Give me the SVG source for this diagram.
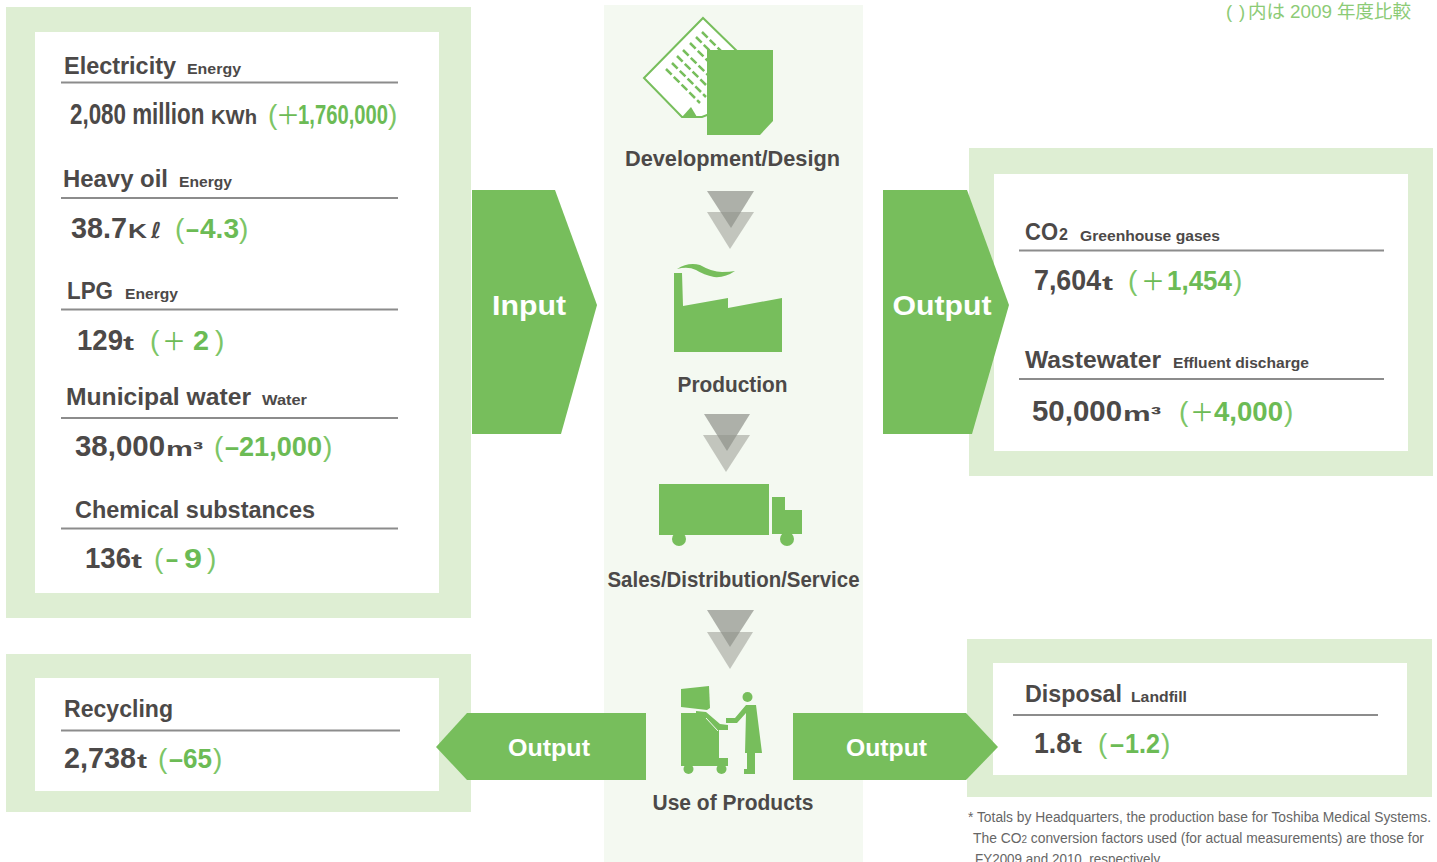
<svg xmlns="http://www.w3.org/2000/svg" width="1437" height="862" viewBox="0 0 1437 862">
<style>
text{font-family:"Liberation Sans",Arial,"Noto Sans CJK JP",sans-serif;font-weight:700;fill:#4c4948}
.h{font-size:24px}.s{font-size:15px}.v{font-size:29px}.d{font-size:27px;fill:#6cbb55}.u{font-size:21px}
.l{font-weight:400;font-size:28px;fill:#7cc566}
.p{font-weight:400;font-size:24px;fill:#6cbb55}
.lab{font-size:22px;text-anchor:middle}
.arr{fill:#fff;font-size:28px;text-anchor:middle}
.f{font-weight:400;font-size:14px;fill:#666}
.outer{fill:#deeed3}.inner{fill:#fff}.ic{fill:#77be5c}
.r{stroke:#8c8c8c;stroke-width:2;fill:none}
.t1{fill:#8f918a;opacity:.7}.t2{fill:#8f918a;opacity:.5}
</style>
<rect x="604" y="5" width="259" height="857" fill="#f4f9f1"/>
<g id="input-panel">
<rect class="outer" x="6" y="7" width="465" height="611"/><rect class="inner" x="35" y="32" width="404" height="561"/>
<path class="r" d="M61 82.500H398M61 198H398M61 309.500H398M61 418H398M61 528.500H398"/>
<text class="h" x="64" y="74" textLength="112" lengthAdjust="spacingAndGlyphs">Electricity</text><text class="s" x="187" y="73.500" textLength="54" lengthAdjust="spacingAndGlyphs">Energy</text>
<text class="v" transform="translate(70 123.500) scale(.772 1)">2,080 million</text>
<text class="u" x="211" y="123.500" textLength="46" lengthAdjust="spacingAndGlyphs">KWh</text>
<text class="l" x="268" y="124">(</text><text class="p" x="276" y="124">＋</text>
<text class="d" transform="translate(298 124) scale(.75 1)">1,760,000</text>
<text class="l" x="388" y="124">)</text>
<text class="h" x="63" y="187" textLength="105" lengthAdjust="spacingAndGlyphs">Heavy oil</text><text class="s" x="179" y="187" textLength="53" lengthAdjust="spacingAndGlyphs">Energy</text>
<text class="v" y="238"><tspan x="71" textLength="56" lengthAdjust="spacingAndGlyphs">38.7</tspan><tspan class="u" x="128" textLength="19" lengthAdjust="spacingAndGlyphs">K</tspan></text>
<text x="151" y="238" style="font-family:'DejaVu Sans',sans-serif;font-size:22px;font-style:italic">ℓ</text>
<text class="d" y="238"><tspan class="l" x="175">(</tspan><tspan x="186" textLength="13" lengthAdjust="spacingAndGlyphs">–</tspan><tspan x="200" textLength="39" lengthAdjust="spacingAndGlyphs">4.3</tspan><tspan class="l" x="239">)</tspan></text>
<text class="h" x="67" y="299" textLength="46" lengthAdjust="spacingAndGlyphs">LPG</text><text class="s" x="125" y="299" textLength="53" lengthAdjust="spacingAndGlyphs">Energy</text>
<text class="v" y="350"><tspan x="77" textLength="46" lengthAdjust="spacingAndGlyphs">129</tspan><tspan class="u" x="123" textLength="11" lengthAdjust="spacingAndGlyphs">t</tspan></text>
<text class="d" y="350"><tspan class="l" x="150">(</tspan><tspan class="p" x="162">＋</tspan><tspan x="193" textLength="16" lengthAdjust="spacingAndGlyphs">2</tspan><tspan class="l" x="215">)</tspan></text>
<text class="h" x="66" y="405" textLength="185" lengthAdjust="spacingAndGlyphs">Municipal water</text><text class="s" x="262" y="405" textLength="45" lengthAdjust="spacingAndGlyphs">Water</text>
<text class="v" y="456"><tspan x="75" textLength="90" lengthAdjust="spacingAndGlyphs">38,000</tspan><tspan class="u" x="166" textLength="37" lengthAdjust="spacingAndGlyphs">m³</tspan></text>
<text class="d" y="456"><tspan class="l" x="214">(</tspan><tspan x="225" textLength="14" lengthAdjust="spacingAndGlyphs">–</tspan><tspan x="239" textLength="83" lengthAdjust="spacingAndGlyphs">21,000</tspan><tspan class="l" x="323">)</tspan></text>
<text class="h" x="75" y="518" textLength="240" lengthAdjust="spacingAndGlyphs">Chemical substances</text>
<text class="v" y="568"><tspan x="85" textLength="46" lengthAdjust="spacingAndGlyphs">136</tspan><tspan class="u" x="131" textLength="11" lengthAdjust="spacingAndGlyphs">t</tspan></text>
<text class="d" y="568"><tspan class="l" x="154">(</tspan><tspan x="166" textLength="12" lengthAdjust="spacingAndGlyphs">–</tspan><tspan x="184" textLength="18" lengthAdjust="spacingAndGlyphs">9</tspan><tspan class="l" x="207">)</tspan></text>
</g>
<g id="recycling-panel">
<rect class="outer" x="6" y="654" width="465" height="158"/><rect class="inner" x="35" y="678" width="404" height="113"/>
<path class="r" d="M61 730.500H400"/>
<text class="h" x="64" y="717" textLength="109" lengthAdjust="spacingAndGlyphs">Recycling</text>
<text class="v" y="768"><tspan x="64" textLength="72" lengthAdjust="spacingAndGlyphs">2,738</tspan><tspan class="u" x="137" textLength="10" lengthAdjust="spacingAndGlyphs">t</tspan></text>
<text class="d" y="768"><tspan class="l" x="158">(</tspan><tspan x="169" textLength="14" lengthAdjust="spacingAndGlyphs">–</tspan><tspan x="183" textLength="29" lengthAdjust="spacingAndGlyphs">65</tspan><tspan class="l" x="213">)</tspan></text>
</g>
<g id="output-air-panel">
<rect class="outer" x="969" y="148" width="464" height="328"/><rect class="inner" x="994" y="174" width="414" height="277"/>
<path class="r" d="M1019 250.500H1384M1019 379H1384"/>
<text class="h" y="240"><tspan x="1025" textLength="33" lengthAdjust="spacingAndGlyphs">CO</tspan><tspan class="s" x="1059" style="font-size:16px">2</tspan></text><text class="s" x="1080" y="240.500" textLength="140" lengthAdjust="spacingAndGlyphs">Greenhouse gases</text>
<text class="v" transform="translate(1034 290) scale(.924 1)">7,604</text><text class="u" x="1102" y="290" textLength="11" lengthAdjust="spacingAndGlyphs">t</text>
<text class="d" y="290"><tspan class="l" x="1128">(</tspan><tspan class="p" x="1141">＋</tspan><tspan x="1167" textLength="65" lengthAdjust="spacingAndGlyphs">1,454</tspan><tspan class="l" x="1233">)</tspan></text>
<text class="h" x="1025" y="368" textLength="136" lengthAdjust="spacingAndGlyphs">Wastewater</text><text class="s" x="1173" y="367.500" textLength="136" lengthAdjust="spacingAndGlyphs">Effluent discharge</text>
<text class="v" y="421"><tspan x="1032" textLength="90" lengthAdjust="spacingAndGlyphs">50,000</tspan><tspan class="u" x="1123" textLength="38" lengthAdjust="spacingAndGlyphs">m³</tspan></text>
<text class="d" y="421"><tspan class="l" x="1179">(</tspan><tspan class="p" x="1190">＋</tspan><tspan x="1214" textLength="69" lengthAdjust="spacingAndGlyphs">4,000</tspan><tspan class="l" x="1284">)</tspan></text>
</g>
<g id="disposal-panel">
<rect class="outer" x="967" y="639" width="465" height="158"/><rect class="inner" x="993" y="663" width="414" height="112"/>
<path class="r" d="M1013 715H1378"/>
<text class="h" x="1025" y="702" textLength="97" lengthAdjust="spacingAndGlyphs">Disposal</text><text class="s" x="1131" y="702" textLength="56" lengthAdjust="spacingAndGlyphs">Landfill</text>
<text class="v" y="753"><tspan x="1034" textLength="37" lengthAdjust="spacingAndGlyphs">1.8</tspan><tspan class="u" x="1071" textLength="11" lengthAdjust="spacingAndGlyphs">t</tspan></text>
<text class="d" y="753"><tspan class="l" x="1098">(</tspan><tspan x="1110" textLength="14" lengthAdjust="spacingAndGlyphs">–</tspan><tspan x="1125" textLength="35" lengthAdjust="spacingAndGlyphs">1.2</tspan><tspan class="l" x="1161">)</tspan></text>
</g>
<g id="connectors">
<polygon class="ic" points="472,190 555,190 597,305 561,434 472,434"/>
<polygon class="ic" points="883,190 967,190 1009,305 972,434 883,434"/>
<polygon class="ic" points="646,713 467,713 436,747 467,780 646,780"/>
<polygon class="ic" points="793,713 966,713 998,747 966,780 793,780"/>
<polygon class="t1" points="707,191 754,191 731,228"/><polygon class="t2" points="707,212 754,212 730,249"/>
<polygon class="t1" points="704,414 750,414 727,451"/><polygon class="t2" points="703,435 750,435 726,472"/>
<polygon class="t1" points="707,610 754,610 730,647"/><polygon class="t2" points="707,632 753,632 730,669"/>
</g>
<text class="arr" x="529" y="315" textLength="74" lengthAdjust="spacingAndGlyphs">Input</text>
<text class="arr" x="942" y="315" textLength="99" lengthAdjust="spacingAndGlyphs">Output</text>
<text class="lab" x="549" y="756" textLength="82" lengthAdjust="spacingAndGlyphs" style="font-size:24px;fill:#fff">Output</text>
<text class="lab" x="886.500" y="756" textLength="81" lengthAdjust="spacingAndGlyphs" style="font-size:24px;fill:#fff">Output</text>
<g id="development">
<polygon points="644,78 703,18 740,54 720,110 702,117 682,117" fill="#fff" stroke="#77be5c" stroke-width="2"/>
<polygon class="ic" points="682,117 691,107 697,117"/>
<g stroke="#77be5c" stroke-width="2.500" stroke-dasharray="8 3" fill="none"><path d="M666 69L700 103M672 63L706 97M677 56L712 91M683 50L718 85M690 43L724 77M696 37L730 71M702 32L732 62"/></g>
<polygon class="ic" points="707,50 773,50 773,121 760,135 707,135"/>
<text class="lab" x="732.500" y="166" textLength="215" lengthAdjust="spacingAndGlyphs">Development/Design</text>
</g>
<g id="production">
<path class="ic" d="M677 269Q688 262 700 265Q712 272 722 272Q730 272 735 271Q725 278 714 277Q704 275 696 270Q688 266 677 269Z"/>
<polygon class="ic" points="674,352 674,273 682,273 683,306 728,298 728,308 782,298 782,352"/>
<text class="lab" x="732.500" y="392" textLength="110" lengthAdjust="spacingAndGlyphs">Production</text>
</g>
<g id="sales">
<rect class="ic" x="659" y="484" width="110" height="51"/>
<polygon class="ic" points="772,497 785,497 785,510 802,510 802,534 772,534"/>
<circle class="ic" cx="679" cy="539" r="7"/><circle class="ic" cx="787" cy="539" r="7"/>
<text class="lab" x="733.500" y="587" textLength="252" lengthAdjust="spacingAndGlyphs">Sales/Distribution/Service</text>
</g>
<g id="use">
<polygon class="ic" points="681,689 709,686 710,708 707,710 681,707"/>
<polygon class="ic" points="681,713 696,713 696,711 706,712 720,724 728,725 728,730 719,730 719,758 728,758 728,766 681,766"/>
<path d="M706 718L718 731" stroke="#f4f9f1" stroke-width="1" fill="none"/>
<circle class="ic" cx="688.500" cy="769" r="5"/><circle class="ic" cx="721.500" cy="769" r="5"/>
<circle class="ic" cx="747.500" cy="697" r="5"/>
<polygon class="ic" points="746,705 756,705 762,753 755,753 755,774 744,774 744,769 747,769 747,753 745,753 746,713 737,723 726,723 726,718 735,718"/>
<text class="lab" x="733" y="810" textLength="161" lengthAdjust="spacingAndGlyphs">Use of Products</text>
</g>
<text y="18" style="font-weight:400;font-size:18.500px;fill:#8ccb76"><tspan x="1226">(</tspan><tspan x="1239">)</tspan><tspan x="1248">内は</tspan><tspan x="1290" textLength="42" lengthAdjust="spacingAndGlyphs">2009</tspan><tspan x="1337">年度比較</tspan></text>
<text class="f" x="968" y="822" textLength="463" lengthAdjust="spacingAndGlyphs">* Totals by Headquarters, the production base for Toshiba Medical Systems.</text>
<text class="f" x="973" y="843" textLength="451" lengthAdjust="spacingAndGlyphs">The CO<tspan style="font-size:10px">2</tspan> conversion factors used (for actual measurements) are those for</text>
<text class="f" x="975" y="864" textLength="188" lengthAdjust="spacingAndGlyphs">FY2009 and 2010, respectively.</text>
</svg>
